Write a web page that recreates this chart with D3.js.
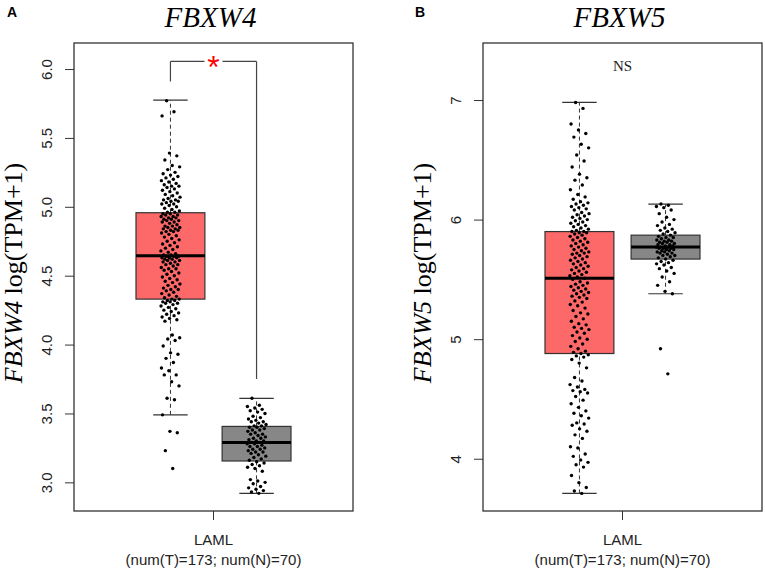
<!DOCTYPE html>
<html>
<head>
<meta charset="utf-8">
<script src="https://cdn.jsdelivr.net/npm/d3@7"></script>
<style>
  body { margin: 0; background: #fff; }
  svg { display: block; }
</style>
</head>
<body>
<div id="charts"></div>
<script>
// expression values, log(TPM+1)
let groups = ["Tumor", "Normal"];
let tumorFBXW4 = [3.10,3.23,3.36,3.37,3.49,3.60,3.61,3.70,3.73,3.78,3.78,3.81,3.83,3.87,3.90,3.93,3.94,3.99,4.03,4.04,4.05,4.07,4.17,4.18,4.19,4.20,4.21,4.22,4.23,4.24,4.25,4.26,4.27,4.28,4.29,4.30,4.30,4.31,4.31,4.32,4.32,4.33,4.33,
  4.34,4.35,4.36,4.37,4.38,4.39,4.40,4.40,4.41,4.42,4.43,4.44,4.45,4.46,4.47,4.48,4.49,4.50,4.51,4.52,4.53,4.54,4.55,4.55,4.56,4.57,4.58,4.58,4.59,4.60,4.60,4.61,4.61,4.62,4.62,4.63,4.63,4.63,4.64,4.64,4.64,4.65,4.65,
  4.66,4.67,4.68,4.69,4.70,4.71,4.72,4.73,4.74,4.75,4.76,4.77,4.78,4.79,4.80,4.81,4.82,4.82,4.83,4.83,4.84,4.84,4.85,4.85,4.86,4.86,4.87,4.88,4.89,4.89,4.90,4.90,4.91,4.91,4.92,4.92,4.93,4.93,4.94,4.94,4.95,4.95,4.96,
  4.96,4.97,4.98,4.99,5.00,5.01,5.02,5.02,5.03,5.04,5.04,5.05,5.05,5.06,5.07,5.08,5.09,5.10,5.11,5.12,5.13,5.14,5.15,5.15,5.16,5.17,5.18,5.19,5.20,5.21,5.22,5.23,5.24,5.25,5.27,5.29,5.30,5.34,5.37,5.39,5.66,5.69,5.77];
let normalFBXW4 = [2.92,2.93,2.94,2.95,2.96,2.97,2.99,3.00,3.01,3.02,3.08,3.10,3.11,3.12,3.13,3.14,3.15,
  3.16,3.17,3.18,3.19,3.20,3.21,3.22,3.22,3.23,3.24,3.24,3.25,3.26,3.26,3.27,3.28,3.28,3.29,
  3.29,3.30,3.30,3.31,3.32,3.32,3.33,3.34,3.35,3.35,3.36,3.37,3.38,3.38,3.39,3.40,3.40,3.41,
  3.41,3.42,3.43,3.44,3.44,3.45,3.46,3.47,3.48,3.50,3.51,3.52,3.53,3.54,3.55,3.56,3.61];
let tumorFBXW5 = [3.71,3.73,3.76,3.80,3.86,3.93,3.95,3.97,3.99,4.02,4.04,4.09,4.10,4.17,4.20,4.23,4.25,4.28,4.29,4.30,4.34,4.36,4.38,4.40,4.43,4.46,4.49,4.52,4.55,4.56,4.57,4.58,4.60,4.62,4.65,4.68,4.76,4.80,4.83,4.85,4.86,4.87,4.88,
  4.89,4.90,4.92,4.94,4.96,4.98,5.00,5.01,5.03,5.05,5.06,5.08,5.09,5.10,5.12,5.13,5.15,5.17,5.19,5.21,5.22,5.24,5.26,5.28,5.29,5.31,5.32,5.34,5.35,5.36,5.37,5.38,5.39,5.40,5.41,5.42,5.43,5.44,5.45,5.46,5.47,5.48,5.50,
  5.51,5.52,5.53,5.54,5.55,5.56,5.57,5.58,5.59,5.60,5.61,5.62,5.63,5.64,5.65,5.66,5.67,5.68,5.69,5.70,5.71,5.72,5.72,5.73,5.74,5.75,5.76,5.77,5.78,5.79,5.80,5.81,5.82,5.83,5.84,5.85,5.86,5.87,5.88,5.89,5.89,5.90,5.90,
  5.91,5.92,5.93,5.94,5.95,5.96,5.97,5.98,5.99,6.00,6.01,6.02,6.03,6.04,6.05,6.06,6.08,6.09,6.10,6.11,6.12,6.13,6.14,6.15,6.17,6.19,6.21,6.25,6.29,6.33,6.35,6.38,6.44,6.49,6.54,6.60,6.63,6.69,6.72,6.75,6.80,6.93,6.98];
let normalFBXW5 = [4.71,4.92,5.38,5.40,5.45,5.48,5.52,5.55,5.57,5.59,5.60,5.62,5.63,5.64,5.65,5.66,5.67,
  5.68,5.69,5.70,5.70,5.71,5.72,5.72,5.73,5.73,5.74,5.74,5.75,5.75,5.76,5.76,5.76,5.77,5.77,
  5.77,5.78,5.78,5.79,5.79,5.80,5.80,5.81,5.81,5.82,5.82,5.83,5.83,5.84,5.85,5.85,5.86,5.87,
  5.88,5.89,5.90,5.91,5.92,5.93,5.95,5.96,5.98,6.00,6.02,6.05,6.08,6.10,6.11,6.12,6.13];

// box statistics: lower whisker, Q1, median, Q3, upper whisker
let boxTumorFBXW4 = [3.49, 4.33, 4.645, 4.957, 5.775];
let boxNormalFBXW4 = [2.92, 3.155, 3.29, 3.406, 3.61];
let boxTumorFBXW5 = [3.71, 4.88, 5.51, 5.90, 6.98];
let boxNormalFBXW5 = [5.38, 5.67, 5.77, 5.87, 6.13];

let ticksFBXW4 = [3.0, 3.5, 4.0, 4.5, 5.0, 5.5, 6.0];
let ticksFBXW5 = [4, 5, 6, 7];
let xLabel = ["LAML", "(num(T)=173; num(N)=70)"];

let w = 765;
let h = 571;
let fillColors = { Tumor: "#fd6868", Normal: "#878787" };

let viz = d3.select("#charts")
  .append("svg")
  .attr("width", w)
  .attr("height", h);

function drawPanel(p) {
  let g = viz.append("g");
  let left = p.left, right = p.left + 279, top = 43, bottom = 511;

  let yScale = d3.scaleLinear().domain(p.yDomain).range([bottom, top]);
  let xScale = d3.scaleBand()
    .domain(groups)
    .range([left, right])
    .paddingInner(0.2)
    .paddingOuter(0.72);
  let bw = xScale.bandwidth();
  let xc = function (k) { return xScale(k) + bw / 2; };

  // panel letter and title
  g.append("text")
    .attr("x", p.letterX).attr("y", 17)
    .attr("font-family", "Liberation Sans, Arial, sans-serif")
    .attr("font-weight", "bold").attr("font-size", 14)
    .text(p.letter);
  g.append("text")
    .attr("x", (left + right) / 2 - 3).attr("y", 27)
    .attr("text-anchor", "middle")
    .attr("font-family", "Liberation Serif, Times New Roman, serif")
    .attr("font-style", "italic").attr("font-size", 29)
    .text(p.gene);

  // y axis label
  let yl = g.append("text")
    .attr("transform", "translate(" + (left - 52) + "," + ((top + bottom) / 2 - 4) + ") rotate(-90)")
    .attr("text-anchor", "middle")
    .attr("font-family", "Liberation Serif, Times New Roman, serif")
    .attr("font-size", 26);
  yl.append("tspan").attr("font-style", "italic").text(p.gene);
  yl.append("tspan").text(" log(TPM+1)");

  // y axis
  let yAxis = d3.axisLeft(yScale)
    .tickValues(p.ticks)
    .tickSize(9)
    .tickPadding(0)
    .tickFormat(p.fmt);
  let yAxisGroup = g.append("g")
    .attr("transform", "translate(" + left + ",0)")
    .call(yAxis);
  yAxisGroup.select(".domain").remove();
  yAxisGroup.selectAll("line").attr("stroke", "#333").attr("stroke-width", 1);
  yAxisGroup.selectAll("text")
    .attr("x", null).attr("dy", null)
    .attr("text-anchor", "middle")
    .attr("transform", "translate(-22,0) rotate(-90)")
    .attr("y", 0)
    .attr("font-family", "Liberation Sans, Arial, sans-serif")
    .attr("font-size", 15)
    .attr("fill", "#222");

  // x tick and labels
  let xm = (left + right) / 2;
  g.append("line")
    .attr("x1", xm).attr("x2", xm)
    .attr("y1", bottom).attr("y2", bottom + 9)
    .attr("stroke", "#333");
  g.selectAll(".xlab")
    .data(xLabel)
    .enter()
    .append("text")
    .attr("x", xm)
    .attr("y", function (d, i) { return 545 + i * 20; })
    .attr("text-anchor", "middle")
    .attr("font-family", "Liberation Sans, Arial, sans-serif")
    .attr("font-size", 15)
    .attr("fill", "#222")
    .text(function (d) { return d; });

  // boxes
  let boxes = [
    { key: "Tumor", s: p.boxT, pts: p.tumor },
    { key: "Normal", s: p.boxN, pts: p.normal }
  ];
  boxes.forEach(function (b) {
    let cx = xc(b.key);
    let s = b.s;
    // whiskers
    [[s[0], s[1]], [s[3], s[4]]].forEach(function (seg) {
      g.append("line")
        .attr("x1", cx).attr("x2", cx)
        .attr("y1", yScale(seg[0])).attr("y2", yScale(seg[1]))
        .attr("stroke", "#333").attr("stroke-width", 1)
        .attr("stroke-dasharray", "4,3");
    });
    [s[0], s[4]].forEach(function (v) {
      g.append("line")
        .attr("x1", cx - bw / 4).attr("x2", cx + bw / 4)
        .attr("y1", yScale(v)).attr("y2", yScale(v))
        .attr("stroke", "#333").attr("stroke-width", 1.2);
    });
    g.append("rect")
      .attr("x", xScale(b.key))
      .attr("y", yScale(s[3]))
      .attr("width", bw)
      .attr("height", yScale(s[1]) - yScale(s[3]))
      .attr("fill", fillColors[b.key])
      .attr("stroke", "#333")
      .attr("stroke-width", 1.2);
    g.append("line")
      .attr("x1", xScale(b.key)).attr("x2", xScale(b.key) + bw)
      .attr("y1", yScale(s[2])).attr("y2", yScale(s[2]))
      .attr("stroke", "#000").attr("stroke-width", 3);
    // jittered points, spread by the golden ratio sequence
    g.selectAll(".pt-" + b.key)
      .data(b.pts)
      .enter()
      .append("circle")
      .attr("cx", function (d, i) {
        let f = ((i + 1) * 0.6180339887) % 1;
        return cx + (f * 2 - 1) * bw * 0.14;
      })
      .attr("cy", function (d) { return yScale(d); })
      .attr("r", 1.7)
      .attr("fill", "#000");
  });

  // significance mark
  let tMax = d3.max(p.tumor), nMax = d3.max(p.normal);
  let topV = Math.max(tMax, nMax);
  if (p.sig == "*") {
    let yb = yScale(topV + 0.285);
    let xa = xc("Tumor"), xb = xc("Normal");
    let st = { stroke: "#444", w: 1.2 };
    g.append("line").attr("x1", xa).attr("x2", xa)
      .attr("y1", yb).attr("y2", yScale(tMax + 0.14))
      .attr("stroke", st.stroke).attr("stroke-width", st.w);
    g.append("line").attr("x1", xb).attr("x2", xb)
      .attr("y1", yb).attr("y2", yScale(nMax + 0.14))
      .attr("stroke", st.stroke).attr("stroke-width", st.w);
    g.append("line").attr("x1", xa).attr("x2", xm - 9)
      .attr("y1", yb).attr("y2", yb)
      .attr("stroke", st.stroke).attr("stroke-width", st.w);
    g.append("line").attr("x1", xm + 9).attr("x2", xb)
      .attr("y1", yb).attr("y2", yb)
      .attr("stroke", st.stroke).attr("stroke-width", st.w);
    g.append("text")
      .attr("x", xm).attr("y", yb + 17)
      .attr("text-anchor", "middle")
      .attr("font-family", "Liberation Sans, Arial, sans-serif")
      .attr("font-size", 32)
      .attr("fill", "#ff0000")
      .text("*");
  } else {
    g.append("text")
      .attr("x", xm).attr("y", yScale(topV + 0.26))
      .attr("text-anchor", "middle")
      .attr("font-family", "Liberation Serif, Times New Roman, serif")
      .attr("font-size", 15)
      .attr("fill", "#222")
      .text(p.sig);
  }

  // frame on top
  g.append("rect")
    .attr("x", left).attr("y", top)
    .attr("width", right - left).attr("height", bottom - top)
    .attr("fill", "none")
    .attr("stroke", "#333")
    .attr("stroke-width", 1.3);
}

drawPanel({
  letter: "A", letterX: 7, gene: "FBXW4", left: 74,
  yDomain: [2.792, 6.189], ticks: ticksFBXW4, fmt: d3.format(".1f"),
  tumor: tumorFBXW4, normal: normalFBXW4,
  boxT: boxTumorFBXW4, boxN: boxNormalFBXW4, sig: "*"
});
drawPanel({
  letter: "B", letterX: 415, gene: "FBXW5", left: 483,
  yDomain: [3.563, 7.477], ticks: ticksFBXW5, fmt: d3.format("d"),
  tumor: tumorFBXW5, normal: normalFBXW5,
  boxT: boxTumorFBXW5, boxN: boxNormalFBXW5, sig: "NS"
});
</script>
</body>
</html>
